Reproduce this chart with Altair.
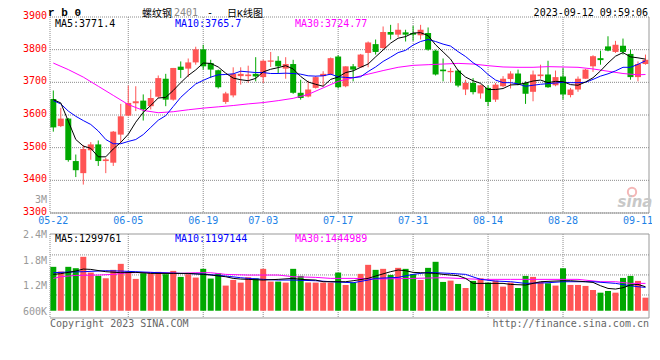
import altair as alt
import pandas as pd

# ---------------- data ----------------
opens = [3649, 3566, 3589, 3459, 3422, 3492, 3510, 3459, 3454, 3540,
         3598, 3636, 3644, 3627, 3656, 3711, 3647, 3748, 3742, 3761,
         3801, 3759, 3737, 3640, 3660, 3719, 3719, 3726, 3716, 3763,
         3766, 3742, 3756, 3668, 3657, 3683, 3719, 3724, 3779, 3688,
         3749, 3746, 3790, 3817, 3805, 3854, 3846, 3853, 3851, 3844,
         3851, 3797, 3739, 3731, 3736, 3678, 3698, 3666, 3683, 3647,
         3688, 3710, 3727, 3698, 3671, 3719, 3724, 3691, 3718, 3661,
         3678, 3711, 3749, 3774, 3810, 3793, 3812, 3787, 3716, 3756]
highs = [3675, 3622, 3591, 3479, 3508, 3517, 3522, 3469, 3551, 3634,
         3690, 3688, 3663, 3678, 3721, 3726, 3744, 3764, 3773, 3809,
         3815, 3769, 3739, 3671, 3746, 3746, 3751, 3777, 3769, 3793,
         3780, 3777, 3769, 3708, 3705, 3719, 3734, 3776, 3783, 3749,
         3756, 3787, 3825, 3831, 3871, 3876, 3881, 3861, 3873, 3876,
         3868, 3800, 3773, 3744, 3739, 3708, 3713, 3693, 3691, 3698,
         3719, 3734, 3739, 3703, 3736, 3754, 3766, 3736, 3744, 3683,
         3718, 3741, 3783, 3797, 3841, 3827, 3834, 3800, 3764, 3785]
lows = [3549, 3563, 3457, 3410, 3387, 3463, 3444, 3422, 3444, 3515,
        3596, 3612, 3583, 3617, 3652, 3627, 3644, 3713, 3716, 3754,
        3739, 3713, 3681, 3634, 3654, 3693, 3698, 3703, 3698, 3747,
        3726, 3711, 3665, 3647, 3654, 3681, 3688, 3722, 3681, 3685,
        3703, 3744, 3746, 3785, 3803, 3831, 3838, 3825, 3827, 3831,
        3797, 3721, 3703, 3700, 3685, 3661, 3663, 3650, 3627, 3640,
        3685, 3681, 3691, 3634, 3642, 3711, 3683, 3688, 3647, 3654,
        3671, 3711, 3732, 3754, 3795, 3790, 3785, 3708, 3703, 3754]
closes = [3562, 3589, 3462, 3431, 3496, 3510, 3459, 3464, 3549, 3596,
          3637, 3642, 3617, 3652, 3713, 3647, 3744, 3738, 3761, 3801,
          3749, 3739, 3685, 3666, 3726, 3726, 3724, 3718, 3766, 3767,
          3749, 3756, 3668, 3652, 3678, 3716, 3726, 3774, 3685, 3749,
          3739, 3785, 3822, 3793, 3854, 3846, 3861, 3846, 3846, 3861,
          3800, 3724, 3734, 3735, 3690, 3698, 3670, 3691, 3640, 3693,
          3711, 3727, 3695, 3665, 3724, 3724, 3685, 3716, 3663, 3678,
          3711, 3739, 3780, 3768, 3797, 3815, 3793, 3716, 3756, 3769]
volumes = [1630, 1520, 1630, 1598, 1865, 1496, 1417, 1362, 1559, 1700,
           1520, 1347, 1480, 1480, 1512, 1457, 1535, 1394, 1457, 1378,
           1583, 1355, 1480, 1190, 1323, 1260, 1386, 1362, 1583, 1284,
           1284, 1260, 1583, 1417, 1260, 1260, 1260, 1260, 1496, 1205,
           1260, 1465, 1677, 1559, 1583, 1441, 1606, 1583, 1457, 1323,
           1606, 1748, 1276, 1307, 1229, 1134, 1300, 1362, 1260, 1307,
           1166, 1260, 1134, 1417, 1394, 1276, 1244, 1190, 1598, 1205,
           1205, 1182, 1087, 1024, 1064, 1024, 1370, 1417, 1300, 907]  # thousands

ma5 = [3647, 3637, 3581, 3525, 3505, 3498, 3472, 3472, 3496, 3516,
       3541, 3578, 3608, 3629, 3652, 3654, 3675, 3699, 3721, 3738,
       3759, 3758, 3747, 3728, 3713, 3708, 3705, 3712, 3732, 3740,
       3745, 3751, 3741, 3718, 3701, 3694, 3688, 3709, 3716, 3730,
       3735, 3746, 3756, 3778, 3799, 3820, 3835, 3840, 3851, 3852,
       3843, 3815, 3793, 3771, 3736, 3716, 3705, 3697, 3678, 3678,
       3681, 3692, 3693, 3698, 3704, 3707, 3699, 3703, 3702, 3693,
       3691, 3701, 3714, 3735, 3759, 3780, 3791, 3778, 3775, 3771]
ma10 = [3644, 3634, 3612, 3596, 3583, 3571, 3551, 3525, 3512, 3512,
        3519, 3525, 3540, 3562, 3584, 3598, 3626, 3654, 3675, 3695,
        3706, 3716, 3723, 3724, 3726, 3734, 3732, 3730, 3730, 3727,
        3727, 3728, 3727, 3725, 3720, 3719, 3720, 3725, 3717, 3715,
        3714, 3717, 3733, 3747, 3764, 3777, 3791, 3798, 3814, 3825,
        3831, 3825, 3817, 3811, 3794, 3779, 3760, 3745, 3724, 3707,
        3699, 3699, 3695, 3688, 3691, 3694, 3696, 3698, 3700, 3699,
        3699, 3700, 3709, 3719, 3726, 3735, 3746, 3746, 3755, 3766]
ma30_idx = [0, 2, 4, 6, 8, 10, 12, 14, 16, 18, 20, 22, 24, 26, 28, 30, 32, 34, 36, 38,
            40, 42, 44, 46, 48, 50, 52, 54, 56, 58, 60, 62, 64, 66, 68, 70, 72, 74, 76, 78, 79]
ma30_val = [3759, 3739, 3716, 3688, 3660, 3632, 3614, 3607, 3610, 3616, 3621, 3625, 3629, 3634,
            3638, 3644, 3651, 3663, 3683, 3703, 3714, 3725, 3736, 3746, 3752, 3754, 3756, 3758,
            3756, 3751, 3747, 3746, 3746, 3748, 3747, 3746, 3741, 3734, 3727, 3723, 3724]

vma5_idx = [0, 1, 3, 4, 5, 7, 9, 11, 13, 16, 18, 20, 21, 23, 24, 25, 26, 28, 30, 32, 33, 35,
            36, 39, 40, 42, 43, 45, 46, 47, 48, 49, 51, 52, 54, 55, 56, 58, 60, 61, 63, 64,
            65, 68, 69, 71, 72, 73, 74, 75, 76, 77, 78, 79]
vma5_val = [1453, 1469, 1531, 1578, 1570, 1516, 1492, 1500, 1476, 1476, 1476, 1453, 1437, 1398,
            1359, 1343, 1336, 1320, 1336, 1359, 1336, 1320, 1281, 1281, 1304, 1359, 1414, 1516,
            1555, 1539, 1500, 1492, 1476, 1453, 1422, 1359, 1242, 1242, 1242, 1218, 1203, 1242,
            1281, 1304, 1304, 1281, 1265, 1187, 1124, 1109, 1140, 1203, 1218, 1163]
vma10_idx = [0, 2, 4, 7, 9, 11, 13, 17, 20, 23, 25, 26, 28, 30, 32, 35, 37, 40, 42, 43, 46,
             48, 50, 53, 55, 57, 59, 61, 63, 66, 68, 70, 72, 75, 77, 78, 79]
vma10_val = [1492, 1508, 1516, 1539, 1531, 1516, 1500, 1476, 1461, 1414, 1375, 1359, 1336, 1320,
             1320, 1304, 1281, 1257, 1320, 1359, 1383, 1453, 1500, 1476, 1453, 1336, 1296, 1281,
             1242, 1257, 1281, 1281, 1281, 1242, 1187, 1163, 1148]
vma30_idx = [0, 1, 3, 6, 8, 10, 13, 17, 19, 21, 23, 26, 30, 32, 35, 37, 40, 43, 48, 52, 57,
             61, 66, 70, 73, 75, 77, 79]
vma30_val = [1359, 1398, 1429, 1437, 1453, 1492, 1500, 1476, 1492, 1492, 1453, 1437, 1437, 1398,
             1383, 1359, 1359, 1343, 1359, 1375, 1336, 1336, 1336, 1336, 1281, 1281, 1242, 1242]

tick_idx = [0, 10, 20, 28, 38, 48, 58, 68, 78]
tick_labels = ["05-22", "06-05", "06-19", "07-03", "07-17", "07-31", "08-14", "08-28", "09-11"]
price_ticks = [3300, 3400, 3500, 3600, 3700, 3800, 3900]
vol_ticks = [600000, 1200000, 1800000, 2400000]
vol_tick_labels = ["600K", "1.2M", "1.8M", "2.4M"]
vol_grid = [970000, 1440000, 1910000]

# ---------------- layout / style ----------------
W, PH, VT, VB = 599, 196, 217, 301
RED, GREEN = "#ff5555", "#00a800"
GRID = "#8c8c8c"
BORDER = "#999999"
MONO = "DejaVu Sans Mono"
CJK = "Liberation Mono, Noto Sans CJK SC"

cdf = pd.DataFrame({"idx": list(range(len(closes))), "open": opens, "high": highs,
                    "low": lows, "close": closes, "vol": [v * 1000 for v in volumes]})
cdf["dir"] = ["up" if c >= o else "down" for o, c in zip(opens, closes)]
tdf = pd.DataFrame({"idx": tick_idx, "label": tick_labels})
gdf = tdf[(tdf.idx > 0) & (tdf.idx < 78)]
pdf = pd.DataFrame({"p": price_ticks})
vtdf = pd.DataFrame({"v": vol_ticks, "lab": vol_tick_labels})

xs = alt.Scale(domain=[-0.44, 79.47], nice=False, zero=False, padding=0)
ys = alt.Scale(domain=[3300, 3900], range=[PH, 0], nice=False, zero=False, padding=0)
vs = alt.Scale(domain=[430000, 2400000], range=[VB, VT], nice=False, zero=False, padding=0)
cs = alt.Scale(domain=["up", "down"], range=[RED, GREEN])
X = alt.X("idx:Q", scale=xs, axis=None)
col = alt.Color("dir:N", scale=cs, legend=None)

one = pd.DataFrame({"k": [0]})


def txt(s, x, y, color="black", size=10, font=MONO, align="left", baseline="middle",
        weight="normal", style="normal"):
    return alt.Chart(one).mark_text(text=s, color=color, fontSize=size, font=font, align=align,
                                    baseline=baseline, fontWeight=weight, fontStyle=style).encode(
        x=alt.value(x), y=alt.value(y))


def vline(x, y1, y2, dash=None, color=BORDER):
    kw = {"strokeDash": dash} if dash else {}
    return alt.Chart(one).mark_rule(color=color, strokeWidth=1, **kw).encode(
        x=alt.value(x), y=alt.value(y1), y2=alt.value(y2))


def hline(y, dash=None, color=BORDER):
    kw = {"strokeDash": dash} if dash else {}
    return alt.Chart(one).mark_rule(color=color, strokeWidth=1, **kw).encode(
        x=alt.value(0), x2=alt.value(W), y=alt.value(y))


# ---------------- price panel ----------------
pgrid_v = alt.Chart(gdf).mark_rule(color=GRID, strokeDash=[1, 1]).encode(
    x=X, y=alt.value(0), y2=alt.value(PH))
pgrid_h = alt.Chart(pdf).mark_rule(color=GRID, strokeDash=[1, 1]).encode(
    y=alt.Y("p:Q", scale=ys, axis=None), x=alt.value(0), x2=alt.value(W))
plabels = alt.Chart(pdf).mark_text(color="#ff0000", font=MONO, fontSize=10, align="right",
                                   baseline="middle", dy=-1).encode(
    y=alt.Y("p:Q", scale=ys, axis=None), x=alt.value(-3), text=alt.Text("p:Q", format="d"))
wicks = alt.Chart(cdf).mark_rule(strokeWidth=1).encode(
    x=X, y=alt.Y("low:Q", scale=ys, axis=None), y2="high:Q", color=col)
bodies = alt.Chart(cdf).mark_bar(size=6).encode(
    x=X, y=alt.Y("open:Q", scale=ys, axis=None), y2="close:Q", color=col)
l5 = alt.Chart(pd.DataFrame({"idx": list(range(80)), "v": ma5})).mark_line(
    color="black", strokeWidth=1).encode(x=X, y=alt.Y("v:Q", scale=ys, axis=None))
l10 = alt.Chart(pd.DataFrame({"idx": list(range(80)), "v": ma10})).mark_line(
    color="#0000ff", strokeWidth=1).encode(x=X, y=alt.Y("v:Q", scale=ys, axis=None))
l30 = alt.Chart(pd.DataFrame({"idx": ma30_idx, "v": ma30_val})).mark_line(
    color="#ff00ff", strokeWidth=1).encode(x=X, y=alt.Y("v:Q", scale=ys, axis=None))
price = alt.layer(pgrid_v, pgrid_h, plabels, wicks, bodies, l30, l10, l5)

# ---------------- volume panel ----------------
vgrid_h = alt.Chart(pd.DataFrame({"g": vol_grid})).mark_rule(color=GRID, strokeDash=[1, 1]).encode(
    y=alt.Y("g:Q", scale=vs, axis=None), x=alt.value(0), x2=alt.value(W))
vgrid_v = alt.Chart(gdf).mark_rule(color=GRID, strokeDash=[1, 1]).encode(
    x=X, y=alt.value(VT), y2=alt.value(VB))
vlabels = alt.Chart(vtdf).mark_text(color="#999999", font=MONO, fontSize=10, align="right",
                                    baseline="middle", dy=1).encode(
    y=alt.Y("v:Q", scale=vs, axis=None), x=alt.value(-3), text="lab:N")
vbars = alt.Chart(cdf).mark_bar(size=6).encode(
    x=X, y=alt.Y("vol:Q", scale=vs, axis=None), y2=alt.datum(600000), color=col)


def vline_ma(ix, vals, c):
    return alt.Chart(pd.DataFrame({"idx": ix, "v": [v * 1000 for v in vals]})).mark_line(
        color=c, strokeWidth=1).encode(x=X, y=alt.Y("v:Q", scale=vs, axis=None))


volume = alt.layer(vgrid_h, vgrid_v, vlabels, vbars,
                   vline_ma(vma30_idx, vma30_val, "#ff00ff"),
                   vline_ma(vma10_idx, vma10_val, "#0000ff"),
                   vline_ma(vma5_idx, vma5_val, "black"))

# ---------------- date labels ----------------
dates = alt.Chart(tdf).mark_text(color="#1e82e6", font=MONO, fontSize=10, baseline="middle").encode(
    x=X, y=alt.value(204), text="label:N")

# ---------------- frames & annotations ----------------
frames = [
    vline(0, 0, PH, [1, 1], GRID), vline(W, 0, PH), hline(PH),
    vline(0, VT, VB, [1, 1], GRID), vline(W, VT, VB), hline(VT), hline(VB),
]
logo_eye = alt.Chart(one).mark_point(shape="circle", filled=False, size=70, color="#f2a6a6",
                                     strokeWidth=2, opacity=0.8).encode(
    x=alt.value(582), y=alt.value(175))
notes = [
    txt("r b 0", -2, -1, size=11, font="Liberation Mono", weight="bold", baseline="alphabetic"),
    txt("螺纹钢", 92, 0, size=10, font=CJK, baseline="alphabetic"),
    txt("2401", 124, -1, color="#888888", size=10, font=MONO, baseline="alphabetic"),
    txt("-", 157, -1, size=10, font=MONO, baseline="alphabetic"),
    txt("日K线图", 177, 0, size=10, font=CJK, baseline="alphabetic"),
    txt("2023-09-12 09:59:06", 598, -1.5, size=10, align="right", baseline="alphabetic"),
    txt("MA5:3771.4", 5, 7),
    txt("MA10:3765.7", 125, 7, color="#0000ff"),
    txt("MA30:3724.77", 245, 7, color="#ff00ff"),
    txt("MA5:1299761", 5, 221.5),
    txt("MA10:1197144", 125, 221.5, color="#0000ff"),
    txt("MA30:1444989", 245, 221.5, color="#ff00ff"),
    txt("3M", -3, 183, color="#999999", align="right"),
    txt("Copyright 2023 SINA.COM", 0, 307, color="#666666"),
    txt("http://finance.sina.com.cn", 599, 307, color="#666666", align="right"),
    logo_eye,
    txt("sina", 585, 190, color="#c8c8c8", size=15, font="DejaVu Sans", align="center",
        weight="bold", style="italic", baseline="alphabetic"),
]

chart = alt.layer(price, volume, dates, *frames, *notes).resolve_scale(
    y="independent"
).properties(
    width=W, height=VB,
    autosize=alt.AutoSizeParams(type="none"),
    padding={"left": 42, "top": 9, "right": 3, "bottom": 20},
).configure(background="white").configure_view(stroke=None)

chart.save("out.html", embed_options={"renderer": "svg", "actions": False})
